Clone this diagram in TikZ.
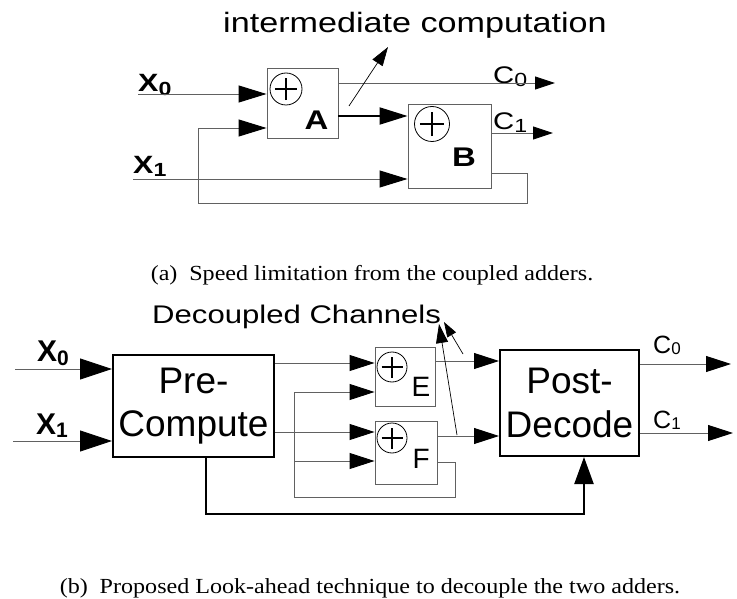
\documentclass[tikz,border=0pt]{standalone}
\usepackage{fontspec}
\setmainfont{Liberation Sans}
\newfontfamily\widesans[FakeStretch=1.22]{Liberation Sans}
\newfontfamily\capserif[FakeStretch=1.12]{Liberation Serif}
\usetikzlibrary{arrows.meta}

% font size shortcut and lowered index
\newcommand\fsz[1]{\fontsize{#1}{#1}\selectfont}
\newcommand\lowidx[3]{\raisebox{-#1}{\fsz{#2}#3}}

\begin{document}
\begin{tikzpicture}[x=1pt,y=-1pt,
  wire/.style={draw=black!62,line width=0.9pt},
  bus/.style={draw=black,line width=2.2pt},
  pointer/.style={draw=black,line width=0.7pt},
  unitbox/.style={draw=black!62,line width=0.9pt,inner sep=0pt},
  blockbox/.style={draw=black,line width=2pt,inner sep=0pt,align=center,
    font=\fontsize{37}{43.5}\selectfont},
  adder/.style={circle,draw=black,line width=0.8pt,inner sep=0pt,minimum size=#1,
    path picture={\draw[line width=1.8pt,black]
      ([xshift=-0.35*#1]path picture bounding box.center) -- ([xshift=0.35*#1]path picture bounding box.center)
      ([yshift=-0.35*#1]path picture bounding box.center) -- ([yshift=0.35*#1]path picture bounding box.center);}},
  tipIn/.style={-{Triangle[length=28pt,width=17pt,color=black]}},
  tipOut/.style={-{Triangle[length=20pt,width=13pt,color=black]}},
  tipBig/.style={-{Triangle[length=32pt,width=21pt,color=black]}},
  tipMid/.style={-{Triangle[length=25pt,width=16pt,color=black]}},
  tipUp/.style={-{Triangle[length=27pt,width=19pt,color=black]}},
  tipPtr/.style={-{Triangle[length=19pt,width=12pt,color=black]}},
  tipPtrS/.style={-{Triangle[length=15pt,width=10pt,color=black]}},
  lblA/.style={font=\widesans\fsz{24},anchor=base west,inner sep=0pt},
  lblB/.style={font=\fsz{25},anchor=base west,inner sep=0pt},
  caption/.style={font=\capserif\fsz{21.5},anchor=base,inner sep=0pt},
]
\useasboundingbox (0,0) rectangle (737,599);

% ---------------- (a) coupled adders ----------------
\node[unitbox,minimum width=71pt,minimum height=70pt] (A) at (302.5,103) {};
\node[unitbox,minimum width=83pt,minimum height=84pt] (B) at (449.5,146) {};
\node[adder=32pt] (addA) at (286,89) {};
\node[adder=35pt] (addB) at (432,124) {};
\node[font=\widesans\bfseries\fsz{27},anchor=base,inner sep=0pt] (nameA) at (316.5,130) {A};
\node[font=\widesans\bfseries\fsz{27},anchor=base,inner sep=0pt] (nameB) at (464,166.5) {B};

\node[font=\widesans\bfseries\fsz{25},anchor=base west,inner sep=0pt] (ax0) at (138,91.7) {X\lowidx{3.5pt}{19}{0}};
\node[font=\widesans\bfseries\fsz{25},anchor=base west,inner sep=0pt] (ax1) at (133,173.3) {X\lowidx{3.5pt}{19}{1}};
\node[lblA] (ac0) at (493,83.3) {C\lowidx{3pt}{19}{0}};
\node[lblA] (ac1) at (493,130) {C\lowidx{3pt}{19}{1}};
\node[font=\widesans\fsz{28},anchor=base west,inner sep=0pt] (inter) at (223,33) {intermediate computation};

\coordinate (ax0in) at (138,94);
\coordinate (ax1in) at (133,179);
\coordinate (fbA) at (198,128);
\coordinate (fbBL) at (198,203);
\coordinate (fbR) at (527,173);
\coordinate (ac0end) at (555,83);
\coordinate (ac1end) at (553,133);
\coordinate (abY) at (0,116);
\coordinate (interFoot) at (349,106);
\coordinate (interTip) at (388,47);

\draw[wire,tipIn] (ax0in) -- (ax0in -| A.west);
\draw[wire,tipIn] (ax1in) -- (ax1in -| B.west);
\draw[wire,tipIn] (fbA) -- (fbA -| A.west);
\draw[wire] (fbR -| B.east) -- (fbR) |- (fbBL) -- (fbA);
\draw[bus,line width=2pt,tipIn] (abY -| A.east) -- (abY -| B.west);
\draw[wire,tipOut] (ac0end -| A.east) -- (ac0end);
\draw[wire,tipOut] (ac1end -| B.east) -- (ac1end);
\draw[pointer,tipPtr] (interFoot) -- (interTip);

\node[caption] (capA) at (372,280) {(a)\hspace{0.55em}Speed limitation from the coupled adders.};

% ---------------- (b) decoupled channels ----------------
\node[blockbox,minimum width=161pt,minimum height=102pt] (PC) at (193.5,406) {Pre-\\Compute};
\node[blockbox,minimum width=139pt,minimum height=106pt] (PD) at (569.5,403) {Post-\\Decode};
\node[unitbox,minimum width=60pt,minimum height=59pt] (E) at (405,376.5) {};
\node[unitbox,minimum width=62pt,minimum height=63pt] (F) at (406,452.5) {};
\node[adder=30pt] (addE) at (392,367) {};
\node[adder=30pt] (addF) at (392,438) {};
\node[font=\fsz{28},anchor=base west,inner sep=0pt] (nameE) at (411.5,396.7) {E};
\node[font=\fsz{28},anchor=base west,inner sep=0pt] (nameF) at (412.5,468) {F};

\node[font=\bfseries\fsz{30},anchor=base west,inner sep=0pt] (bx0) at (37,361.7) {X\lowidx{4pt}{21}{0}};
\node[font=\bfseries\fsz{30},anchor=base west,inner sep=0pt] (bx1) at (36,434) {X\lowidx{3.5pt}{21}{1}};
\node[lblB] (bc0) at (653,353.3) {C\lowidx{1pt}{17}{0}};
\node[lblB] (bc1) at (653,428.3) {C\lowidx{1pt}{17}{1}};
\node[font=\widesans\fsz{25.5},anchor=base west,inner sep=0pt] (dec) at (152,323) {Decoupled Channels};

\coordinate (bx0in) at (15,369);
\coordinate (bx1in) at (13,441);
\coordinate (peY) at (0,363);
\coordinate (pfY) at (0,432);
\coordinate (fbTop) at (294,392);
\coordinate (fbMid) at (294,461);
\coordinate (fbBot) at (294,497);
\coordinate (fbRight) at (455,462);
\coordinate (eoY) at (0,361);
\coordinate (foY) at (0,436);
\coordinate (bc0end) at (731,364);
\coordinate (bc1end) at (733,433);
\coordinate (busL) at (206,514);
\coordinate (busR) at (584,514);
\coordinate (chFootF) at (457,435);
\coordinate (chTipF) at (439,324);
\coordinate (chFootE) at (463,354);
\coordinate (chTipE) at (444,322);

\draw[wire,tipBig] (bx0in) -- (bx0in -| PC.west);
\draw[wire,tipBig] (bx1in) -- (bx1in -| PC.west);
\draw[wire,tipMid] (peY -| PC.east) -- (peY -| E.west);
\draw[wire,tipMid] (pfY -| PC.east) -- (pfY -| F.west);
\draw[wire,tipMid] (fbTop) -- (fbTop -| E.west);
\draw[wire,tipMid] (fbMid) -- (fbMid -| F.west);
\draw[wire] (fbTop) -- (fbBot) -| (fbRight) -- (fbRight -| F.east);
\draw[wire,tipMid] (eoY -| E.east) -- (eoY -| PD.west);
\draw[wire,tipMid] (foY -| F.east) -- (foY -| PD.west);
\draw[wire,tipMid] (bc0end -| PD.east) -- (bc0end);
\draw[wire,tipMid] (bc1end -| PD.east) -- (bc1end);
\draw[bus,tipUp] (busL |- PC.south) -- (busL) -- (busR) -- (busR |- PD.south);
\draw[pointer,tipPtr] (chFootF) -- (chTipF);
\draw[pointer,tipPtrS] (chFootE) -- (chTipE);

\node[caption] (capB) at (370,593) {(b)\hspace{0.55em}Proposed Look-ahead technique to decouple the two adders.};
\end{tikzpicture}
\end{document}
